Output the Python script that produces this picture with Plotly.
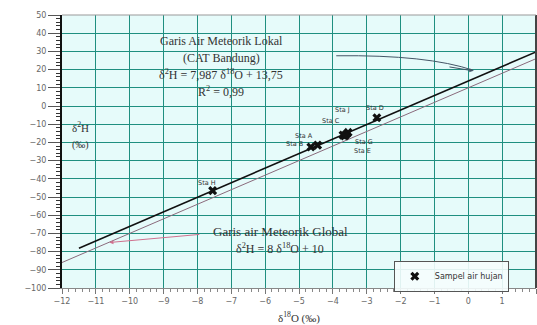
import plotly.graph_objects as go

# Data
sta_names = ["Sta H", "Sta B", "Sta A", "Sta C", "Sta J", "Sta G", "Sta E", "Sta D"]
d18O = [-7.55, -4.65, -4.45, -3.7, -3.55, -3.6, -3.65, -2.7]
d2H = [-46.5, -22.5, -21.5, -16.0, -14.5, -15.5, -16.5, -6.5]
# label offsets (px) for station names
lab_dx = [-6, -16, -14, -12, -6, 18, 18, -2]
lab_dy = [8, 3, 9, 14, 22, -8, -15, 10]

lmwl_slope, lmwl_int = 7.987, 13.75
gmwl_slope, gmwl_int = 8.0, 10.0
lmwl_x = [-11.5, 2.0]
gmwl_x = [-12.0, 2.0]

fig = go.Figure()

fig.add_trace(go.Scatter(
    x=gmwl_x, y=[gmwl_slope * v + gmwl_int for v in gmwl_x], mode="lines",
    line=dict(color="#8a6a7c", width=1), showlegend=False, hoverinfo="skip"))
fig.add_trace(go.Scatter(
    x=lmwl_x, y=[lmwl_slope * v + lmwl_int for v in lmwl_x], mode="lines",
    line=dict(color="#111111", width=1.6), showlegend=False, hoverinfo="skip"))
fig.add_trace(go.Scatter(
    x=d18O, y=d2H, mode="markers", name="Sampel air hujan",
    marker=dict(symbol="x", size=8, color="#111111", line=dict(width=0)),
    showlegend=True))

for n, xv, yv, dx, dy in zip(sta_names, d18O, d2H, lab_dx, lab_dy):
    fig.add_annotation(x=xv, y=yv, text=n, showarrow=False, xshift=dx, yshift=dy,
                       font=dict(family="DejaVu Sans", size=6.5, color="#333"))

serif = "Liberation Serif"
txt_col = "#333333"
for t, yy in [("Garis Air Meteorik Lokal", 35.5), ("(CAT Bandung)", 26.3),
              ("δ<sup>2</sup>H = 7,987 δ<sup>18</sup>O + 13,75", 17.2), ("R<sup>2</sup> = 0,99", 8.0)]:
    fig.add_annotation(x=-7.3, y=yy, text=t, showarrow=False,
                       font=dict(family=serif, size=12, color=txt_col))

fig.add_annotation(x=-5.55, y=-68.8, text="Garis air Meteorik Global", showarrow=False,
                   font=dict(family=serif, size=13, color=txt_col))
fig.add_annotation(x=-5.55, y=-78.5, text="δ<sup>2</sup>H = 8 δ<sup>18</sup>O + 10", showarrow=False,
                   font=dict(family=serif, size=12, color=txt_col))

# y label inside plot
fig.add_annotation(x=-11.75, y=-11.5, text="δ<sup>2</sup>H", showarrow=False, xanchor="left",
                   font=dict(family=serif, size=11, color=txt_col))
fig.add_annotation(x=-11.75, y=-21.5, text="(‰)", showarrow=False, xanchor="left",
                   font=dict(family=serif, size=10, color=txt_col))

# arrow for local line
fig.add_shape(type="path", path="M -3.9,27.6 Q -1.2,28.2 0.15,19.6",
              line=dict(color="#445566", width=1))
fig.add_annotation(x=0.15, y=19.3, ax=-0.6, ay=21.6, xref="x", yref="y", axref="x", ayref="y",
                   text="", showarrow=True, arrowhead=2, arrowsize=0.8, arrowwidth=1,
                   arrowcolor="#445566")
# arrow for global line
fig.add_annotation(x=-10.6, y=-75, ax=-7.9, ay=-70.5, xref="x", yref="y", axref="x", ayref="y",
                   text="", showarrow=True, arrowhead=2, arrowsize=0.8, arrowwidth=1,
                   arrowcolor="#d0708e")

fig.update_layout(
    width=537, height=325,
    margin=dict(l=62, r=1, t=15, b=37),
    paper_bgcolor="white", plot_bgcolor="#e6fbfa",
    legend=dict(x=0.70, y=0.10, xanchor="left", yanchor="top",
                bgcolor="rgba(245,253,253,0.9)", bordercolor="#555", borderwidth=1,
                font=dict(family="DejaVu Sans", size=8, color="#333"), itemwidth=30),
    xaxis=dict(range=[-12, 2], dtick=1, tick0=-12, showgrid=True, gridcolor="#1f8f80",
               gridwidth=1.2, zeroline=False, showline=True, linecolor="#888", linewidth=1,
               ticks="outside", ticklen=5, tickcolor="#777",
               minor=dict(dtick=0.2, ticks="outside", ticklen=3, tickcolor="#888", showgrid=False),
               tickfont=dict(family="DejaVu Sans", size=8, color="#666"),
               title=dict(text="δ<sup>18</sup>O (‰)", standoff=10,
                          font=dict(family=serif, size=11, color=txt_col)),
               mirror=False),
    yaxis=dict(range=[-100, 50], dtick=10, tick0=-100, showgrid=True, gridcolor="#1f8f80",
               gridwidth=1.2, zeroline=False, showline=True, linecolor="#111", linewidth=2,
               ticks="outside", ticklen=12, tickcolor="#555",
               minor=dict(dtick=2, ticks="outside", ticklen=4, tickcolor="#333", showgrid=False),
               tickfont=dict(family="DejaVu Sans", size=8, color="#666")),
)
# right and top borders
fig.add_shape(type="line", xref="paper", yref="paper", x0=1, x1=1, y0=0, y1=1,
              line=dict(color="#444", width=2))
fig.add_shape(type="line", xref="paper", yref="paper", x0=0, x1=1, y0=1, y1=1,
              line=dict(color="#999", width=1))

fig.write_html("out.html")
